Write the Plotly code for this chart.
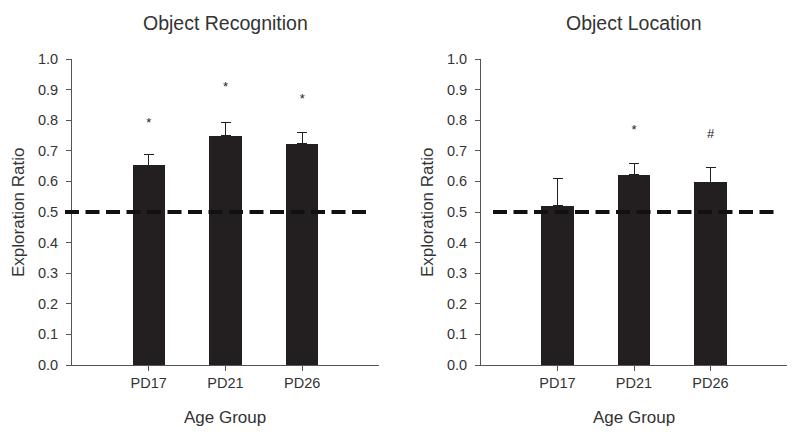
import plotly.graph_objects as go

# ---- data ----
age_groups = ["PD17", "PD21", "PD26"]
recog_mean = [0.652, 0.750, 0.723]
recog_sem = [0.037, 0.044, 0.037]
recog_sig_y = [0.79, 0.906, 0.868]
recog_sig_txt = ["*", "*", "*"]

loc_mean = [0.521, 0.622, 0.597]
loc_sem = [0.089, 0.037, 0.047]
loc_sig_y = [0.766, 0.754]
loc_sig_groups = ["PD21", "PD26"]
loc_sig_txt = ["*", "#"]

chance = 0.5
y_ticks = [0.0, 0.1, 0.2, 0.3, 0.4, 0.5, 0.6, 0.7, 0.8, 0.9, 1.0]

# page body has an 8px default margin; figure sized to fit the window
OFF = 8
W, H = 800 - OFF, 436 - OFF
BAR = "#231f20"
TXT = "#333333"
AX = "#555555"
FONT = "Liberation Sans, Arial, sans-serif"

def px(x):
    return (x - OFF) / W

def py(y):
    return 1 - (y - OFF) / H

pos = {g: i + 1 for i, g in enumerate(age_groups)}
xs = [pos[g] for g in age_groups]

fig = go.Figure()

def add_panel(xa, ya, means, sems, sig_groups, sig_y, sig_txt, xa_d, ya_d):
    fig.add_trace(go.Bar(
        x=xs, y=means, width=0.42, marker=dict(color=BAR, line=dict(width=0)),
        error_y=dict(type="data", symmetric=False, array=sems,
                     arrayminus=[0] * len(sems), color=BAR, thickness=1, width=5),
        xaxis=xa, yaxis=ya, showlegend=False, hoverinfo="skip"))
    fig.add_trace(go.Scatter(
        x=[pos[g] for g in sig_groups], y=sig_y, text=sig_txt, mode="text",
        textfont=dict(family=FONT, size=13, color="#222222"),
        textposition="middle center", cliponaxis=False,
        xaxis=xa, yaxis=ya, showlegend=False, hoverinfo="skip"))
    # chance line on its own hidden axes pair
    fig.add_trace(go.Scatter(
        x=[0, 1], y=[chance, chance], mode="lines",
        line=dict(color="#111111", width=4, dash="14px,6.5px"),
        xaxis=xa_d, yaxis=ya_d, showlegend=False, hoverinfo="skip"))

add_panel("x", "y", recog_mean, recog_sem, age_groups, recog_sig_y, recog_sig_txt, "x3", "y3")
add_panel("x2", "y2", loc_mean, loc_sem, loc_sig_groups, loc_sig_y, loc_sig_txt, "x4", "y4")

y_dom = [py(365), py(59)]
panels = [
    ("xaxis", "yaxis", "x", "y", 72, 379),
    ("xaxis2", "yaxis2", "x2", "y2", 481, 787),
]
layout = dict(
    template="none",
    width=W, height=H, margin=dict(l=0, r=0, t=0, b=0, pad=0, autoexpand=False),
    paper_bgcolor="white", plot_bgcolor="rgba(0,0,0,0)",
    font=dict(family=FONT, color=TXT),
    bargap=0, showlegend=False,
)
for xk, yk, xn, yn, x0, x1 in panels:
    layout[xk] = dict(
        domain=[px(x0), px(x1)], range=[0, 4], anchor=yn,
        tickmode="array", tickvals=xs, ticktext=age_groups,
        showline=True, linecolor=AX, linewidth=1,
        ticks="outside", ticklen=5, tickcolor=AX, tickwidth=1,
        showgrid=False, zeroline=False, automargin=False,
        tickfont=dict(family=FONT, size=14.5, color=TXT),
        fixedrange=True)
    layout[yk] = dict(
        domain=y_dom, range=[0, 1], anchor=xn,
        tickmode="array", tickvals=y_ticks, ticktext=[f"{v:.1f}" for v in y_ticks],
        showline=True, linecolor=AX, linewidth=1,
        ticks="outside", ticklen=5, tickcolor=AX, tickwidth=1,
        showgrid=False, zeroline=False, ticklabelstandoff=5, automargin=False,
        tickfont=dict(family=FONT, size=14.5, color=TXT),
        fixedrange=True)

# hidden axes for the dashed chance lines
layout["xaxis3"] = dict(domain=[px(65), px(370)], range=[0, 1], anchor="y3", visible=False)
layout["yaxis3"] = dict(domain=y_dom, range=[0, 1], anchor="x3", visible=False)
layout["xaxis4"] = dict(domain=[px(493), px(777)], range=[0, 1], anchor="y4", visible=False)
layout["yaxis4"] = dict(domain=y_dom, range=[0, 1], anchor="x4", visible=False)

titles = [("Object Recognition", 225.5), ("Object Location", 634)]
anns = []
for t, cx in titles:
    anns.append(dict(text=t, x=px(cx), y=py(23), xref="paper", yref="paper",
                     showarrow=False, xanchor="center", yanchor="middle",
                     font=dict(family=FONT, size=19.5, color=TXT)))
    anns.append(dict(text="Age Group", x=px(cx), y=py(417), xref="paper", yref="paper",
                     showarrow=False, xanchor="center", yanchor="middle",
                     font=dict(family=FONT, size=17, color=TXT)))
for ax_x in [18, 427]:
    anns.append(dict(text="Exploration Ratio", x=px(ax_x), y=py(213),
                     xref="paper", yref="paper", showarrow=False, textangle=-90,
                     xanchor="center", yanchor="middle",
                     font=dict(family=FONT, size=17, color=TXT)))
layout["annotations"] = anns

fig.update_layout(**layout)
fig.write_html("out.html")
